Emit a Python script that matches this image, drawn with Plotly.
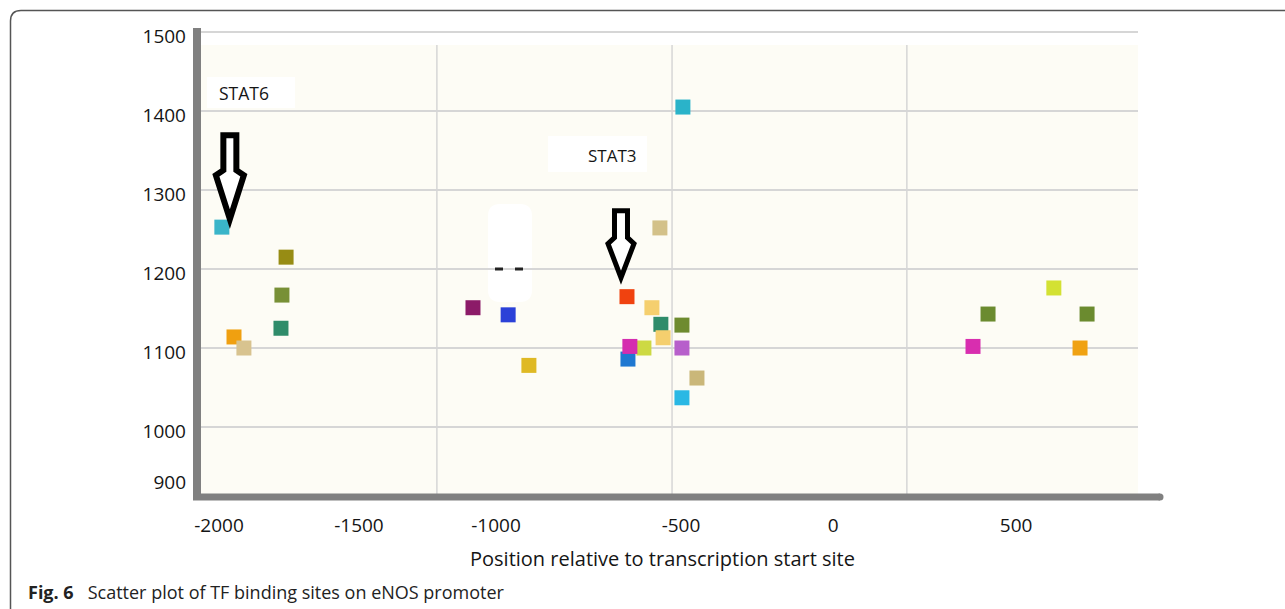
import plotly.graph_objects as go

# --- data -----------------------------------------------------------------
# Position of each transcription-factor binding site (bp relative to TSS)
site_position = [-1899, -1868, -1937, -1736, -1749, -1752, -1151, -1041, -976,
                 -669, -591, -563, -556, -497, -666, -616, -660, -497, -450,
                 -497, -494, -566, 414, 461, 667, 749, 771]
# Vertical value of each site
site_value = [1114, 1100, 1253, 1215, 1167, 1125, 1151, 1142, 1078,
              1165, 1151, 1130, 1113, 1129, 1086, 1100, 1102, 1100, 1062,
              1037, 1405, 1252, 1102, 1143, 1176, 1100, 1143]
site_color = ["#f0a010", "#d8c38f", "#3ab5c9", "#978c14", "#789036", "#2f8c6a",
              "#8c1b68", "#2b41d8", "#dfb924", "#f0420f", "#f5cf6e", "#2f8c6a",
              "#f5cf6e", "#6e8b2f", "#1f78d1", "#cdd943", "#d52daf", "#b75fcb",
              "#cab779", "#2ab8e4", "#2ab3c9", "#d3c189", "#d82eaf", "#6b8b2f",
              "#d3e133", "#f0a212", "#6b8b2f"]

x_labels = ["-2000", "-1500", "-1000", "-500", "0", "500"]
x_label_at = [-1946, -1508, -1079, -500, -24, 549]
x_grid_at = [-1264, -528, 207]

y_labels = ["900", "1000", "1100", "1200", "1300", "1400", "1500"]
y_label_at = [930, 995, 1095, 1195, 1295, 1394, 1494]

X_RANGE = [-2002.3, 930.4]
Y_RANGE = [915.2, 1503.8]

# plot-area box in page pixels, used to place decorations
PL, PR, PT, PB = 201, 1138, 29, 494
W, H = 1285, 609


def px(x):
    return (x - PL) / (PR - PL)


def py(y):
    return (PB - y) / (PB - PT)


AXIS_GREY = "#808080"
GRID = "#d6d6d6"
CREAM = "#fdfcf5"
FONT = "Open Sans"
INK = "#151515"

fig = go.Figure()

fig.add_trace(go.Scatter(
    x=site_position, y=site_value, mode="markers",
    marker=dict(symbol="square", size=15, color=site_color, line=dict(width=0)),
    hoverinfo="x+y",
))

shapes = []
# cream plotting field
shapes.append(dict(type="rect", xref="paper", yref="paper", x0=0, x1=1,
                   y0=0, y1=py(45), fillcolor=CREAM, line=dict(width=0),
                   layer="below"))
# vertical grid lines
for g in x_grid_at:
    shapes.append(dict(type="line", xref="x", yref="paper", x0=g, x1=g,
                       y0=0, y1=py(45), line=dict(color=GRID, width=1.5),
                       layer="below"))
# white label boxes
shapes.append(dict(type="rect", xref="paper", yref="paper",
                   x0=px(207), x1=px(295), y0=py(108), y1=py(77),
                   fillcolor="white", line=dict(width=0), layer="between"))
shapes.append(dict(type="rect", xref="paper", yref="paper",
                   x0=px(548), x1=px(647), y0=py(172), y1=py(136),
                   fillcolor="white", line=dict(width=0), layer="between"))
# white blank patch with two dashes
bx0, bx1, by0, by1, r = 488, 532, 204, 302, 12
patch = (f"M {px(bx0 + r)},{py(by0)} L {px(bx1 - r)},{py(by0)} "
         f"Q {px(bx1)},{py(by0)} {px(bx1)},{py(by0 + r)} "
         f"L {px(bx1)},{py(by1 - r)} Q {px(bx1)},{py(by1)} {px(bx1 - r)},{py(by1)} "
         f"L {px(bx0 + r)},{py(by1)} Q {px(bx0)},{py(by1)} {px(bx0)},{py(by1 - r)} "
         f"L {px(bx0)},{py(by0 + r)} Q {px(bx0)},{py(by0)} {px(bx0 + r)},{py(by0)} Z")
shapes.append(dict(type="path", xref="paper", yref="paper", path=patch,
                   fillcolor="white", line=dict(width=0), layer="between"))
for d0, d1 in [(495, 503), (515, 523)]:
    shapes.append(dict(type="line", xref="paper", yref="paper",
                       x0=px(d0), x1=px(d1), y0=py(269), y1=py(269),
                       line=dict(color="#222", width=3)))

# hollow block arrows, anchored on the STAT6 and STAT3 sites (pixel offsets)
def arrow_path(pts):
    return "M " + " L ".join(f"{a},{b}" for a, b in pts) + " Z"


stat6_arrow = [(1.5, 92), (14.5, 92), (14.5, 57), (22, 52), (8, 8), (-6, 52), (1.5, 57)]
stat3_arrow = [(-12.5, 86), (0.5, 86), (0.5, 59), (7, 53), (-6, 19), (-19, 53), (-12.5, 59)]
for (ax_, ay_), pts, lw in [((site_position[2], site_value[2]), stat6_arrow, 6),
                            ((site_position[9], site_value[9]), stat3_arrow, 5)]:
    shapes.append(dict(type="path", xref="x", yref="y",
                       xsizemode="pixel", ysizemode="pixel",
                       xanchor=ax_, yanchor=ay_, path=arrow_path(pts),
                       fillcolor="white", line=dict(color="black", width=lw)))

# heavy grey axis bars
shapes.append(dict(type="line", xref="paper", yref="paper",
                   x0=px(197), x1=px(197), y0=py(500), y1=py(28),
                   line=dict(color=AXIS_GREY, width=8)))
shapes.append(dict(type="line", xref="paper", yref="paper",
                   x0=px(193), x1=px(1160), y0=py(497), y1=py(497),
                   line=dict(color=AXIS_GREY, width=7)))
shapes.append(dict(type="circle", xref="paper", yref="paper",
                   x0=px(1156.5), x1=px(1163.5), y0=py(500.5), y1=py(493.5),
                   fillcolor=AXIS_GREY, line=dict(width=0)))

# rounded figure frame
frame = (f"M {px(10.5)},{py(640)} L {px(10.5)},{py(21)} "
         f"Q {px(10.5)},{py(10.5)} {px(21)},{py(10.5)} L {px(1300)},{py(10.5)}")
shapes.append(dict(type="path", xref="paper", yref="paper", path=frame,
                   line=dict(color="#555", width=1.5)))

annotations = [
    dict(text="STAT6", xref="paper", yref="paper", x=px(217), y=py(93),
         xanchor="left", yanchor="middle", showarrow=False,
         font=dict(family=FONT, size=17.5, color=INK)),
    dict(text="STAT3", xref="paper", yref="paper", x=px(586), y=py(155),
         xanchor="left", yanchor="middle", showarrow=False,
         font=dict(family=FONT, size=17, color=INK)),
    dict(text="<b>Fig. 6</b>\u00a0\u00a0 Scatter plot of TF binding sites on eNOS promoter",
         xref="paper", yref="paper", x=px(26), y=py(592),
         xanchor="left", yanchor="middle", showarrow=False,
         font=dict(family=FONT, size=18, color="#222")),
    dict(text="Position relative to transcription start site",
         xref="paper", yref="paper", x=px(662), y=py(558),
         xanchor="center", yanchor="middle", showarrow=False,
         font=dict(family=FONT, size=20, color=INK)),
]

fig.update_layout(
    width=W, height=H,
    margin=dict(l=PL, r=W - PR, t=PT, b=H - PB),
    paper_bgcolor="white", plot_bgcolor="white",
    showlegend=False,
    shapes=shapes, annotations=annotations,
    xaxis=dict(range=X_RANGE, tickmode="array", tickvals=x_label_at,
               ticktext=x_labels, showgrid=False, zeroline=False,
               showline=False, ticks="", ticklabelstandoff=18,
               tickfont=dict(family=FONT, size=19, color=INK)),
    yaxis=dict(range=Y_RANGE, tickmode="array", tickvals=y_label_at,
               ticktext=y_labels, showgrid=False, zeroline=False,
               showline=False, ticks="", ticklabelstandoff=14,
               tickfont=dict(family=FONT, size=19, color=INK),
               minor=dict(tick0=1000, dtick=100, showgrid=True,
                          gridcolor=GRID, gridwidth=1.5, ticks="")),
)

fig.write_html("out.html")
